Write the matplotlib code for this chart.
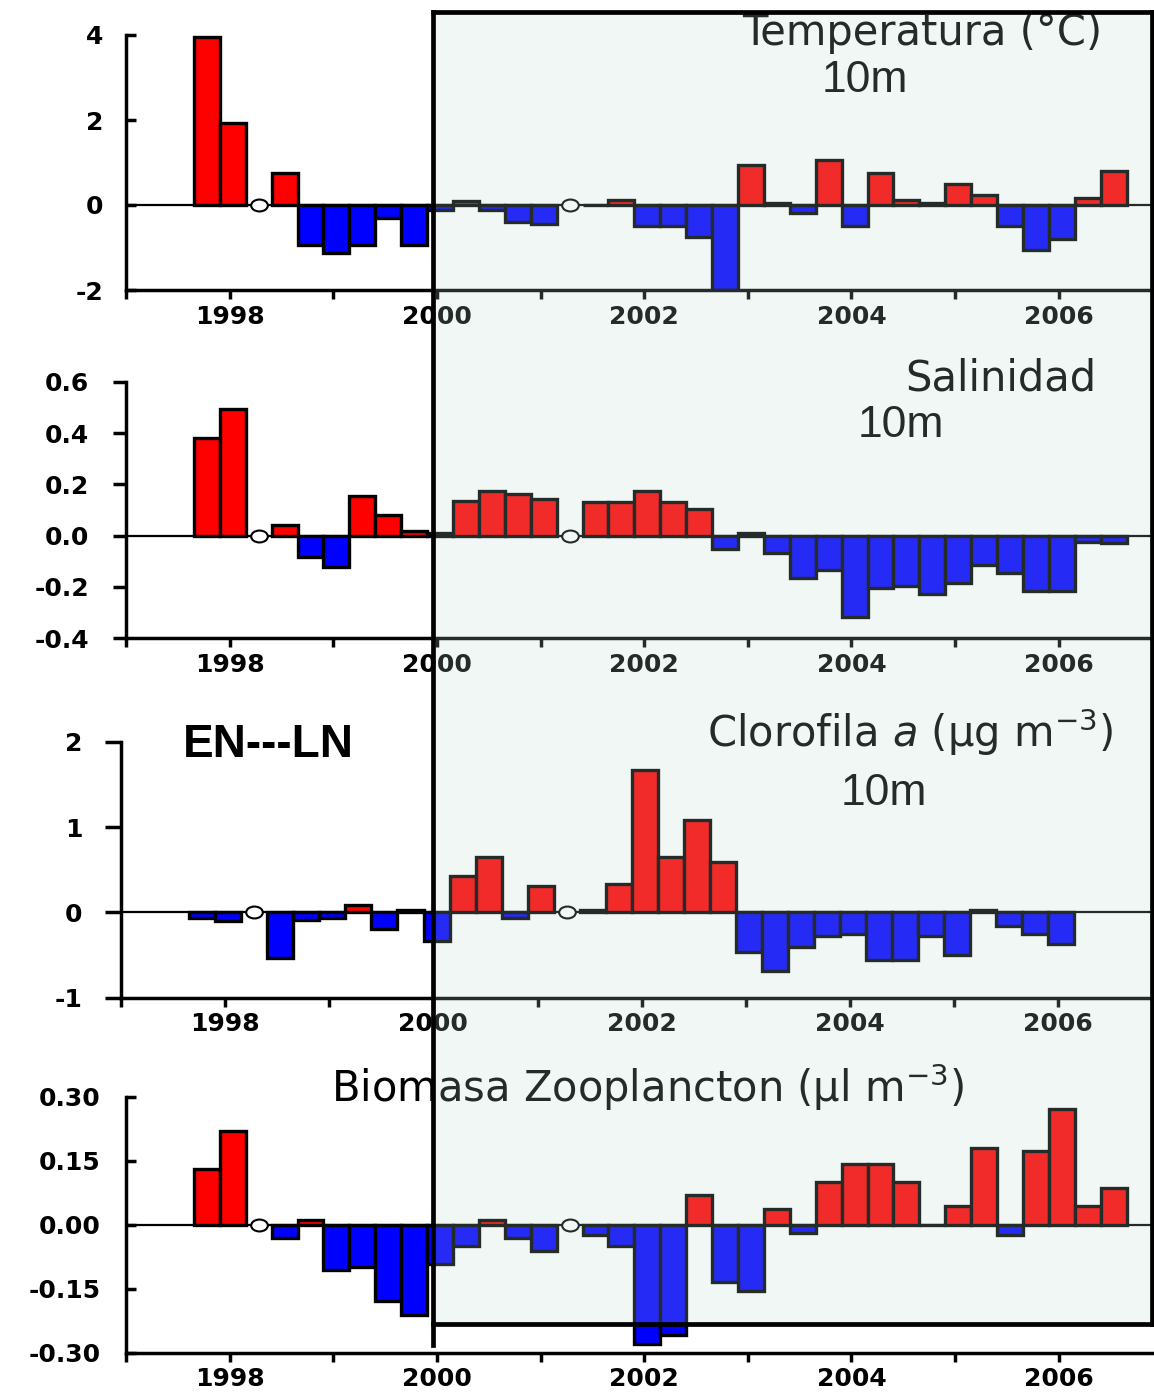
import numpy as np
import matplotlib
matplotlib.use("Agg")
import matplotlib.pyplot as plt
from matplotlib.patches import Rectangle
from matplotlib.lines import Line2D
from matplotlib.path import Path
from matplotlib.transforms import Affine2D

plt.rcParams['font.family'] = ['DejaVu Sans']
plt.rcParams['axes.unicode_minus'] = False

# ---------------- data ----------------
nan = np.nan
first_quarter = 1997.78          # centre of first seasonal (quarterly) value
n_quarters = 36
quarters = first_quarter + 0.25 * np.arange(n_quarters)
missing_idx = [2, 14]            # quarters without data (open circles)

temperatura = [3.95, 1.94, nan, 0.75, -0.95, -1.13, -0.95, -0.30, -0.95, -0.12,
               0.10, -0.12, -0.40, -0.44, nan, 0.0, 0.11, -0.50, -0.50, -0.76,
               -2.00, 0.94, 0.05, -0.19, 1.06, -0.50, 0.75, 0.11, 0.04, 0.49,
               0.24, -0.50, -1.06, -0.81, 0.17, 0.79]
salinidad = [0.38, 0.494, nan, 0.043, -0.085, -0.124, 0.153, 0.082, 0.017, 0.012,
             0.134, 0.173, 0.163, 0.143, nan, 0.13, 0.13, 0.173, 0.13, 0.104,
             -0.052, 0.009, -0.069, -0.165, -0.133, -0.318, -0.204, -0.195, -0.227, -0.184,
             -0.113, -0.146, -0.214, -0.214, -0.026, -0.03]
clorofila = [-0.07, -0.10, nan, -0.53, -0.09, -0.07, 0.09, -0.19, 0.03, -0.34,
             0.43, 0.645, -0.07, 0.31, nan, 0.03, 0.33, 1.67, 0.645, 1.08,
             0.59, -0.46, -0.69, -0.40, -0.28, -0.25, -0.56, -0.56, -0.28, -0.50,
             0.03, -0.16, -0.25, -0.37, nan, nan]
biomasa = [0.131, 0.219, nan, -0.031, 0.012, -0.105, -0.098, -0.178, -0.211, -0.091,
           -0.049, 0.012, -0.031, -0.061, nan, -0.023, -0.049, -0.28, -0.259, 0.069,
           -0.134, -0.155, 0.0375, -0.02, 0.10, 0.143, 0.143, 0.10, 0.0, 0.045,
           0.18, -0.023, 0.173, 0.272, 0.045, 0.086]

year_ticks = list(range(1997, 2007))
year_labels = [str(y) if y % 2 == 0 else '' for y in year_ticks]

temp_ticks = [-2, 0, 2, 4]
temp_labels = ['-2', '0', '2', '4']
sal_ticks = [-0.4, -0.2, 0.0, 0.2, 0.4, 0.6]
sal_labels = ['-0.4', '-0.2', '0.0', '0.2', '0.4', '0.6']
chl_ticks = [-1, 0, 1, 2]
chl_labels = ['-1', '0', '1', '2']
bio_ticks = [-0.30, -0.15, 0.0, 0.15, 0.30]
bio_labels = ['-0.30', '-0.15', '0.00', '0.15', '0.30']

# ---------------- figure ----------------
W, H = 1154, 1395
fig = plt.figure(figsize=(W / 100, H / 100), dpi=100)
fig.patch.set_facecolor('white')

XMIN, XMAX = 1997.03, 2006.90


def px_axes(left, top, right, bottom):
    return fig.add_axes([left / W, 1 - bottom / H, (right - left) / W, (bottom - top) / H])


ellipse = Path.unit_circle().transformed(Affine2D().scale(1.4, 1.0))


def panel(ax, values, ylim, yticks, ylabels, ydir, ylen, ypad):
    vals = np.array(values, dtype=float)
    ok = ~np.isnan(vals)
    colors = ['#FF0000' if v > 0 else '#0000FF' for v in vals[ok]]
    ax.axhline(0, color='black', lw=1.6, zorder=1)
    ax.bar(quarters[ok], vals[ok], width=0.25, color=colors, edgecolor='black',
           linewidth=2.4, zorder=2)
    ax.plot(quarters[missing_idx], np.zeros(len(missing_idx)), ls='none',
            marker=ellipse, ms=12, mfc='white', mec='black', mew=1.5, zorder=3)
    ax.set_xlim(XMIN, XMAX)
    ax.set_ylim(*ylim)
    ax.set_facecolor('none')
    for s in ['top', 'right']:
        ax.spines[s].set_visible(False)
    for s in ['left', 'bottom']:
        ax.spines[s].set_linewidth(2.5)
    ax.set_xticks(year_ticks)
    ax.set_xticklabels(year_labels)
    ax.set_yticks(yticks)
    ax.set_yticklabels(ylabels)
    ax.tick_params(axis='y', direction=ydir, length=ylen, width=2.5, pad=ypad, labelsize=18)
    ax.tick_params(axis='x', direction='out', length=6.5, width=2.5, pad=4, labelsize=18)
    for lbl in ax.get_xticklabels() + ax.get_yticklabels():
        lbl.set_fontweight('bold')


ax1 = px_axes(126, 35, 1152, 290)
panel(ax1, temperatura, (-2, 4), temp_ticks, temp_labels, 'in', 7.4, 16.5)

ax2 = px_axes(126, 381.7, 1152, 638.3)
panel(ax2, salinidad, (-0.4, 0.6), sal_ticks, sal_labels, 'out', 9.6, 17)

ax3 = px_axes(121, 741.7, 1152, 997.7)
panel(ax3, clorofila, (-1, 2), chl_ticks, chl_labels, 'out', 11.3, 16.5)

ax4 = px_axes(126, 1096.7, 1152, 1352.7)
panel(ax4, biomasa, (-0.30, 0.30), bio_ticks, bio_labels, 'in', 7.4, 18)


def ftext(x, y, s, **kw):
    kw.setdefault('zorder', 3)
    return fig.text(x / W, 1 - y / H, s, **kw)


title_kw = dict(fontsize=30, ha='center', va='baseline', family='DejaVu Sans', color='black')
ftext(922, 45, 'Temperatura (°C)', **title_kw)
ftext(1001, 390.7, 'Salinidad', **title_kw)
ftext(910, 746.7, 'Clorofila $\\mathit{a}$ (µg m$^{-3}$)', **title_kw)
ftext(647, 1101.7, 'Biomasa Zooplancton (µl m$^{-3}$)', **title_kw)

m_kw = dict(fontsize=32, ha='center', va='baseline', family='Liberation Sans', color='black')
ftext(865, 91.7, '10m', **m_kw)
ftext(901, 436.7, '10m', **m_kw)
ftext(884, 805, '10m', **m_kw)

ftext(183, 756.7, 'EN---LN', fontsize=33, fontweight='bold', family='Liberation Sans',
      ha='left', va='baseline', color='black')

# translucent highlighted period box
box_l, box_t, box_r, box_b = 433, 12, 1152, 1324
fig.add_artist(Rectangle((box_l / W, 1 - box_b / H), (box_r - box_l) / W, (box_b - box_t) / H,
                         transform=fig.transFigure, facecolor=(189 / 255, 219 / 255, 209 / 255),
                         alpha=0.2, edgecolor='none', zorder=5))
lkw = dict(transform=fig.transFigure, color='black', lw=3.4, zorder=6, solid_capstyle='projecting')
fig.add_artist(Line2D([box_l / W, 1.0], [1 - box_t / H, 1 - box_t / H], **lkw))
fig.add_artist(Line2D([box_l / W, 1.0], [1 - box_b / H, 1 - box_b / H], **lkw))
fig.add_artist(Line2D([box_l / W, box_l / W], [1 - box_t / H, 1 - 1345 / H], **lkw))
fig.add_artist(Line2D([box_r / W, box_r / W], [1 - box_t / H, 1 - box_b / H], **lkw))

fig.savefig('out.png', dpi=100, facecolor='white')
